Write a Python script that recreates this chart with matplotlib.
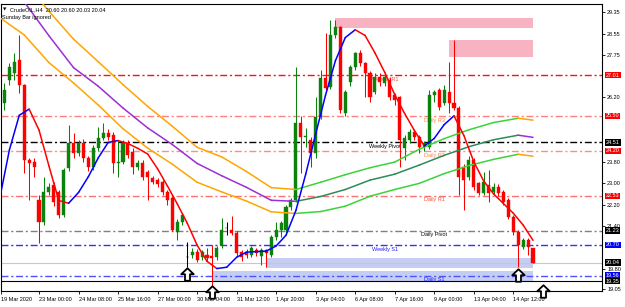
import matplotlib
matplotlib.use("Agg")
import matplotlib.pyplot as plt
import matplotlib.transforms as mtrans
from matplotlib.collections import LineCollection
from matplotlib.path import Path
from matplotlib.patches import Rectangle

plt.rcParams['font.family'] = ['Liberation Sans', 'DejaVu Sans']

# ---------------- data ----------------
first_bar = 1
opens = [25.97, 26.82, 27.08, 27.57, 26.64, 23.85, 23.77, 22.36, 21.54, 22.66,
         22.92, 22.66, 21.80, 23.55, 24.48, 24.11, 24.48, 23.92, 23.59, 24.29,
         24.67, 24.85, 24.78, 23.74, 23.77, 24.48, 24.15, 23.59, 23.74, 23.40,
         23.18, 23.10, 23.03, 22.66, 22.44, 21.17, 21.54, 20.24, 20.32, 20.43,
         20.24, 20.32, 20.28, 20.24, 20.69, 21.31, 21.24, 21.13, 20.43, 20.43,
         20.32, 20.50, 20.28, 20.50, 20.32, 20.98, 21.24, 21.24, 22.10, 22.36,
         25.22, 24.70, 24.59, 24.11, 25.45, 26.90, 26.56, 28.50, 28.79, 25.60,
         26.75, 27.31, 27.83, 27.45, 27.08, 26.38, 26.94, 26.72, 26.82, 26.26,
         26.19, 24.29, 24.59, 24.89, 24.70, 24.33, 24.33, 26.26, 26.45, 25.97,
         26.38, 25.97, 25.78, 23.59, 23.22, 23.85, 22.99, 22.62, 22.92, 22.66,
         22.84, 22.66, 22.36, 21.73, 21.17, 20.61, 20.87, 20.60]
highs = [26.71, 27.45, 27.83, 28.50, 26.70, 23.95, 23.92, 22.55, 23.22, 23.00,
         23.05, 22.75, 23.55, 25.15, 24.85, 24.60, 24.65, 24.00, 24.40, 25.10,
         25.22, 25.00, 24.90, 24.59, 24.60, 24.60, 24.30, 23.85, 23.85, 23.48,
         23.25, 23.18, 23.10, 22.75, 22.50, 21.65, 21.90, 20.80, 20.60, 20.55,
         20.50, 20.57, 20.69, 20.65, 21.70, 21.54, 21.77, 21.20, 20.50, 20.55,
         20.65, 20.60, 20.60, 20.55, 21.05, 21.54, 21.60, 22.20, 22.45, 27.31,
         25.50, 25.05, 24.70, 26.19, 27.20, 28.57, 29.05, 29.05, 28.85, 26.45,
         27.40, 27.88, 27.95, 27.50, 27.15, 27.10, 27.10, 27.05, 26.95, 26.35,
         26.25, 24.80, 25.00, 25.00, 24.80, 24.55, 26.45, 26.45, 26.52, 26.64,
         27.49, 28.31, 25.85, 23.70, 24.00, 23.95, 23.05, 23.40, 23.48, 23.00,
         22.95, 22.75, 22.45, 21.80, 21.24, 20.95, 20.95, 20.60]
lows = [25.71, 26.64, 26.82, 26.34, 23.36, 22.36, 23.22, 20.76, 21.45, 22.55,
        22.15, 21.70, 21.75, 23.45, 23.95, 24.00, 23.80, 23.45, 23.50, 24.20,
        24.60, 24.60, 23.36, 23.22, 23.70, 23.95, 23.35, 23.50, 23.10, 22.36,
        22.95, 22.85, 22.55, 22.20, 21.20, 20.87, 21.45, 19.87, 20.20, 20.05,
        20.15, 20.10, 19.02, 20.15, 20.60, 21.05, 21.05, 20.30, 20.10, 20.20,
        20.25, 20.30, 19.95, 19.87, 20.25, 20.90, 21.00, 21.15, 22.00, 22.30,
        23.36, 24.33, 23.59, 23.95, 25.40, 26.40, 26.50, 28.40, 25.60, 25.50,
        26.60, 27.20, 27.35, 26.19, 26.00, 26.30, 26.60, 26.60, 26.10, 25.90,
        23.59, 23.85, 24.50, 24.60, 24.11, 24.20, 24.25, 26.00, 25.70, 25.90,
        25.60, 25.70, 22.55, 21.99, 23.10, 22.75, 22.55, 22.55, 22.29, 22.55,
        22.50, 22.20, 21.65, 21.05, 19.87, 20.55, 20.32, 20.03]
closes = [26.45, 27.31, 27.49, 26.64, 23.85, 23.74, 23.59, 21.54, 22.66, 22.84,
          22.29, 21.80, 23.48, 24.48, 24.11, 24.48, 23.92, 23.59, 24.29, 24.67,
          24.85, 24.70, 23.74, 23.80, 24.48, 24.04, 23.59, 23.74, 23.22, 23.22,
          23.03, 22.96, 22.66, 22.36, 21.24, 21.54, 21.80, 20.24, 20.43, 20.13,
          20.43, 20.21, 20.21, 20.57, 21.24, 21.31, 21.13, 20.39, 20.24, 20.32,
          20.57, 20.39, 20.50, 20.39, 20.98, 21.24, 21.50, 22.10, 22.36, 25.22,
          24.70, 24.75, 24.11, 25.45, 26.90, 26.52, 28.50, 28.79, 25.70, 26.38,
          27.31, 27.83, 27.45, 27.08, 26.19, 26.94, 26.75, 26.94, 26.19, 26.08,
          24.59, 24.67, 24.89, 24.70, 24.33, 24.48, 26.26, 26.38, 25.82, 26.45,
          25.97, 25.78, 23.22, 23.10, 23.85, 22.84, 22.62, 23.03, 22.62, 22.84,
          22.62, 22.29, 21.73, 21.17, 20.69, 20.87, 20.61, 20.04]

ma_bars = [0, 5, 10, 15, 20, 25, 30, 35, 40, 45, 50, 55, 60, 65, 70, 75, 80,
           85, 90, 95, 100, 105, 108]
upper_band = [31.62, 30.50, 29.39, 28.35, 27.51, 26.66, 25.85, 25.11, 24.33, 23.97,
              23.43, 22.83, 22.76, 23.03, 23.31, 23.57, 23.78, 24.26, 24.65, 24.98,
              25.25, 25.41, 25.34]
mid_band = [30.91, 29.74, 28.48, 27.29, 26.60, 25.79, 25.05, 24.43, 23.73, 23.27,
            22.84, 22.36, 22.32, 22.50, 22.76, 23.11, 23.33, 23.67, 24.03, 24.35,
            24.61, 24.78, 24.70]
lower_band = [29.16, 28.51, 27.48, 26.72, 25.90, 25.02, 24.30, 23.70, 23.03, 22.67,
              22.33, 21.93, 21.87, 21.94, 22.14, 22.51, 22.76, 22.99, 23.35, 23.65,
              23.88, 24.07, 24.00]
fast_bars = list(range(0, 109, 2))
fast_line = [22.39, 24.23, 25.52, 25.75, 24.97, 23.64, 22.35, 22.25, 22.65, 23.24,
             23.94, 24.51, 24.58, 24.47, 24.29, 24.08, 23.53, 22.89, 22.22, 21.51,
             20.69, 20.09, 19.82, 19.87, 20.24, 20.43, 20.45, 20.47, 20.66, 21.06,
             21.98, 23.34, 24.82, 26.27, 27.55, 28.41, 28.70, 28.49, 27.84, 27.11,
             26.29, 25.59, 24.95, 24.38, 24.66, 25.17, 25.50, 24.77, 23.80, 23.08,
             22.60, 22.24, 21.88, 21.44, 20.87]

level_prices = [27.01, 25.50, 24.51, 24.20, 22.53, 21.23, 20.70, 19.56]
level_names = ["Weekly R1", "Daily R3", "Weekly Pivot", "Daily R2", "Daily R1",
               "Daily Pivot", "Weekly S1", "Daily S1"]
level_colors = ['#ff1010', '#ff8080', '#000000', '#ff8c8c', '#ff7070', '#808080',
                '#3030ff', '#5050ff']
level_text_colors = ['#f05050', '#ff8040', '#000000', '#ff8040', '#ff5030', '#000000',
                     '#2020ff', '#2020ff']
level_label_bars = [78, 88, 78, 88, 88, 88, 78, 88]

zone_start = [68, 91, 54, 43]
zone_end = [108, 108, 108, 108]
zone_low = [28.76, 27.68, 19.83, 19.31]
zone_high = [29.13, 28.31, 20.20, 19.72]
zone_colors = ['#f7b3c2', '#f7b3c2', '#c4cef2', '#c4cef2']

arrow_bars = [38, 43, 105, 110]
arrow_prices = [19.62, 18.93, 19.58, 18.97]

bid_price = 20.04
base_line_price = 19.35
box_prices = [27.01, 25.50, 24.20, 24.51, 22.53, 21.23, 20.70, 20.04, 19.56, 19.35]
box_colors = ['#ff0000', '#ff0000', '#ff0000', '#000000', '#ff0000', '#000000',
              '#0000ff', '#000000', '#0000ff', '#000000']
price_ticks = [29.35, 28.55, 27.75, 26.20, 23.80, 23.00, 22.20, 21.40, 19.80, 19.05]
time_label_bars = [0, 8, 16, 24, 32, 40, 48, 56, 64, 72, 80, 88, 96, 104]
time_labels = ["19 Mar 2020", "23 Mar 00:00", "24 Mar 08:00", "25 Mar 16:00",
               "27 Mar 00:00", "30 Mar 04:00", "31 Mar 12:00", "1 Apr 20:00",
               "3 Apr 04:00", "6 Apr 08:00", "7 Apr 16:00", "9 Apr 00:00",
               "13 Apr 04:00", "14 Apr 12:00"]
header = "CrudeOIL,H4  20.60 20.60 20.03 20.04"
subheader = "Sunday Bar ignored"

# ---------------- layout ----------------
W, H, DPI = 625, 307, 100
FL, FR, FT, FB = 1, 602, 4, 291
BAR_PX, BAR0_PX = 4.94, -0.5
PX_PER_PRICE, REF_PRICE, REF_Y = 26.89, 29.35, 12.3
FS = 4.0

fig = plt.figure(figsize=(W / DPI, H / DPI), dpi=DPI)
fig.patch.set_facecolor('white')
ax = fig.add_axes([FL / W, 1 - FB / H, (FR - FL) / W, (FB - FT) / H])
xmin = (FL - BAR0_PX) / BAR_PX
xmax = (FR - BAR0_PX) / BAR_PX
ax.set_xlim(xmin, xmax)
ax.set_ylim(REF_PRICE - (FB - REF_Y) / PX_PER_PRICE, REF_PRICE + (REF_Y - FT) / PX_PER_PRICE)
for s in ax.spines.values():
    s.set_linewidth(0.8)
    s.set_color('black')

# zones
for b0, b1, lo, hi, c in zip(zone_start, zone_end, zone_low, zone_high, zone_colors):
    ax.add_patch(Rectangle((b0, lo), b1 - b0, hi - lo, facecolor=c, edgecolor='none', zorder=0.5))

# level lines and labels
for p, name, c, tc, lb in zip(level_prices, level_names, level_colors, level_text_colors, level_label_bars):
    ax.axhline(p, color=c, lw=1.0, linestyle=(0, (5, 2, 1.5, 2)), zorder=1)
    ax.annotate(name, (lb, p), xytext=(0, -1.3), textcoords='offset points',
                ha='center', va='top', fontsize=FS, color=tc, zorder=1.5)

ax.axhline(bid_price, color='#c8c8c8', lw=0.8, zorder=1)
ax.axhline(base_line_price, color='black', lw=0.8, zorder=1)

# candles
bull, bear, doji = '#0b820b', '#ff0000', '#000000'
for i, (o, h, l, c) in enumerate(zip(opens, highs, lows, closes)):
    b = first_bar + i
    if abs(c - o) < 0.005:
        col = doji
    elif c > o:
        col = bull
    else:
        col = bear
    ax.vlines(b, l, h, color=col, lw=0.75, zorder=2)
    ax.bar(b, max(abs(c - o), 0.025), bottom=min(o, c), width=0.62, color=col,
           edgecolor=col, lw=0.3, zorder=2.1)

# moving average envelope & fast line, coloured by direction
def colored_line(xs, ys, up_col, down_col, lw):
    segs, cols = [], []
    for k in range(len(xs) - 1):
        segs.append([(xs[k], ys[k]), (xs[k + 1], ys[k + 1])])
        cols.append(up_col if ys[k + 1] > ys[k] else down_col)
    lc = LineCollection(segs, colors=cols, linewidths=lw, zorder=3, capstyle='round')
    ax.add_collection(lc)

colored_line(ma_bars, upper_band, '#3ad43a', '#ffa500', 1.1)
colored_line(ma_bars, lower_band, '#3ad43a', '#ffa500', 1.1)
colored_line(ma_bars, mid_band, '#2e8b57', '#9b30d0', 1.1)
colored_line(fast_bars, fast_line, '#0000ff', '#ff0000', 1.1)

# arrows
arrow_path = Path([(0, 0.5), (0.5, 0.02), (0.2, 0.02), (0.2, -0.5), (-0.2, -0.5),
                   (-0.2, 0.02), (-0.5, 0.02), (0, 0.5)],
                  [Path.MOVETO] + [Path.LINETO] * 6 + [Path.CLOSEPOLY])
ax.plot(arrow_bars, arrow_prices, linestyle='none', marker=arrow_path, markersize=9,
        markerfacecolor='white', markeredgecolor='black', markeredgewidth=1.3,
        clip_on=False, zorder=8)

# axes ticks
ax.yaxis.tick_right()
ax.set_yticks(price_ticks)
ax.set_yticklabels([f"{p:.2f}" for p in price_ticks])
ax.tick_params(axis='y', direction='out', length=2.5, width=0.6, pad=1.2, labelsize=FS)
xt = [max(b, xmin) for b in time_label_bars]
ax.set_xticks(xt)
ax.set_xticklabels(time_labels, ha='left')
ax.tick_params(axis='x', direction='out', length=2.5, width=0.6, pad=1.5, labelsize=FS)

# price boxes on the right scale
btrans = mtrans.offset_copy(mtrans.blended_transform_factory(ax.transAxes, ax.transData),
                            fig=fig, x=4, y=0, units='dots')
for k, (p, c) in enumerate(zip(box_prices, box_colors)):
    ax.text(1.0, p, f"{p:.2f}", transform=btrans, ha='left', va='center', color='white',
            fontsize=FS, clip_on=False, zorder=10 + k,
            bbox=dict(boxstyle='square,pad=0.12', fc=c, ec='none'))

# header texts
fig.text(3 / W, 1 - 9.5 / H, "\u25bc", fontsize=3.2, color='black', ha='left', va='center',
         family=['DejaVu Sans'])
fig.text(10 / W, 1 - 9.5 / H, header, fontsize=FS, color='black', ha='left', va='center')
fig.text(2 / W, 1 - 17.5 / H, subheader, fontsize=FS, color='black', ha='left', va='center')

fig.savefig("out.png", dpi=DPI, facecolor='white')
